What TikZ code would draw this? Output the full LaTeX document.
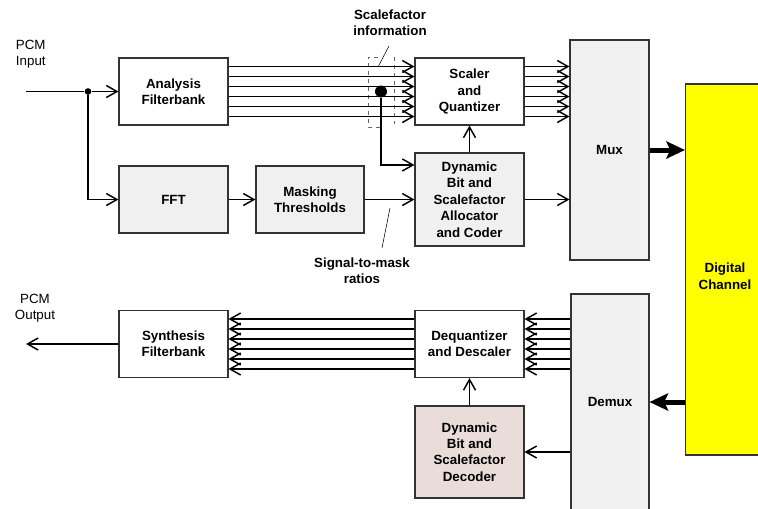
\documentclass[tikz,border=0pt]{standalone}
\usepackage{fontspec}
\setmainfont{Liberation Sans}
\usetikzlibrary{arrows.meta}
\definecolor{boxgrey}{HTML}{F0F0F0}
\definecolor{decpink}{HTML}{EADCD9}
\definecolor{chanyellow}{HTML}{FFFF00}

\begin{document}
\begin{tikzpicture}[x=0.75pt,y=-0.75pt,node distance=81pt,
  thick,>={Straight Barb[length=8pt,width=9pt,line width=1.1pt]},
  block node/.style={rectangle,draw=black!80,fill=white,inner sep=0pt,align=center,
    font=\fontsize{10}{12.3}\selectfont\bfseries,minimum width=81.75pt,minimum height=50.25pt},
  grey node/.style={block node,fill=boxgrey},
  text node/.style={align=center,font=\fontsize{10}{12.3}\selectfont},
  fat arrow/.style={line width=3.75pt,-{Stealth[length=14pt,width=13pt,inset=3pt]}}]

  \useasboundingbox (0,0) rectangle (758,508);
  \clip (0,0) rectangle (758,508);

  \node[block node] (11) at (173.5,91.5) {Analysis\\Filterbank};
  \node[grey node] (21) [below of=11] {FFT};
  \node[grey node,minimum width=81pt] (22) at (310,199.5) {Masking\\Thresholds};
  \node[block node] (13) at (469.5,91.5) {Scaler\\and\\Quantizer};
  \node[grey node,minimum height=69.75pt] (23) [below of=13] {Dynamic\\Bit and\\Scalefactor\\Allocator\\and Coder};
  \node[grey node,minimum width=59.25pt,minimum height=165pt] (14) at (609.5,150) {Mux};
  \node[block node,fill=chanyellow,minimum width=59.25pt,minimum height=278.25pt] (15) at (725,269.5) {\strut\\[-3.3pt]Digital\\Channel};
  \node[block node] (31) at (173.5,344) {Synthesis\\Filterbank};
  \node[block node] (33) at (469.5,344) {Dequantizer\\and Descaler};
  \node[block node,fill=decpink,minimum height=69pt] (43) at (469.5,452) {Dynamic\\Bit and\\Scalefactor\\Decoder};
  \node[grey node,minimum width=58.5pt,minimum height=162pt] (34) at (610,402) {Demux};

  \node[text node,align=left,anchor=west] (in) at (11,54) {PCM\\Input};
  \node[text node] (out) at (35,308.5) {PCM\\Output};
  \node[text node,font=\fontsize{10}{12.3}\selectfont\bfseries] (sf) at (390,23) {Scalefactor\\information};
  \node[text node,font=\fontsize{10}{12.3}\selectfont\bfseries] (smr) at (362,271) {Signal-to-mask\\ratios};

  \coordinate (in0) at (26,91.5);
  \coordinate (out0) at (26,344);
  \coordinate (sf1) at (378,67);
  \coordinate (sf2) at (389,46);
  \coordinate (smr1) at (390,208);
  \coordinate (smr2) at (382,248);

  % scalefactor taps
  \draw [thin,dashed,black!60] (378,57) -- (368,57) -- (368,127) -- (380,127);
  \draw [thin,dashed,black!60] (394,57) -- (394,124);

  \foreach \d in {-18.75,-11.25,-3.75,3.75,11.25,18.75} {
    \coordinate (a) at ([yshift=\d pt]13.east);
    \coordinate (b) at ([yshift=\d pt]33.east);
    \draw [->] ([yshift=\d pt]11.east) -- ([yshift=\d pt]13.west);
    \draw [->] (a) -- (a -| 14.west);
    \draw [->] (b -| 34.west) -- (b);
    \draw [->] ([yshift=\d pt]33.west) -- ([yshift=\d pt]31.east);
  }

  \node[circle,fill,inner sep=0pt,minimum size=5pt] (dot) at (88,91.5) {};
  \node[circle,fill,inner sep=0pt,minimum size=9pt] (sfdot) at (381,91.5) {};

  \draw (in0) -- (dot);
  \draw [->] (dot) -- (11);
  \draw [->] (dot) |- (21);
  \draw [->] (21) -- (22);
  \draw [->] (22) -- (23);
  \draw [->] (23) -- (13);
  \draw [->] (23.east) -- (23.east -| 14.west);
  \draw [->] (sfdot) |- ([yshift=25.9pt]23.west);
  \draw [fat arrow] (14.east) -- (14.east -| 15.west);
  \draw [fat arrow] (34.east -| 15.west) -- (34.east);
  \draw [->] (43) -- (33);
  \draw [->] (43.east -| 34.west) -- (43.east);
  \draw [->] (31) -- (out0);
  \draw [thin] (sf1) -- (sf2);
  \draw [thin] (smr1) -- (smr2);
\end{tikzpicture}
\end{document}
